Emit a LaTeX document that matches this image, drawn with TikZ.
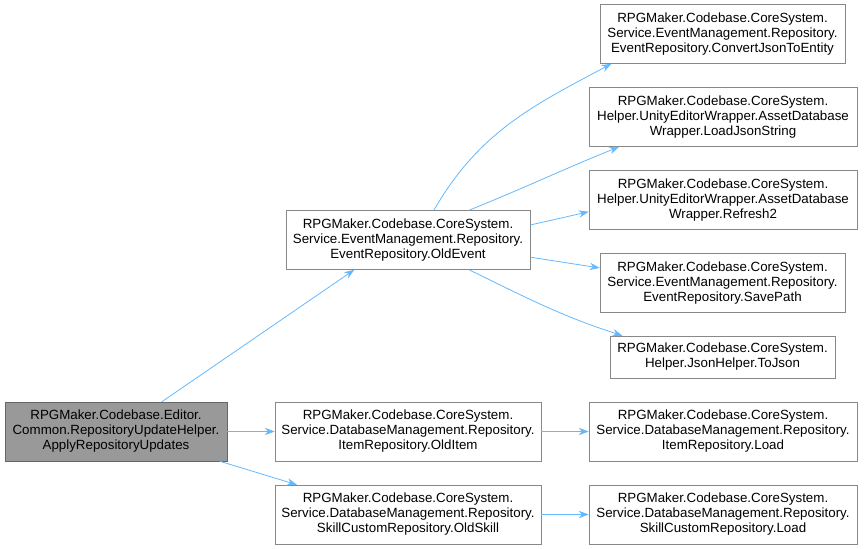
\documentclass[tikz,border=0pt]{standalone}
\usepackage{fontspec}
\setmainfont{Liberation Sans}
\usepackage{tikz}
\usetikzlibrary{arrows.meta, positioning}
\definecolor{edgeblue}{HTML}{63B8FF}
\definecolor{boxline}{HTML}{888888}
\definecolor{rootfill}{HTML}{999999}
\tikzset{
  fn/.style={
    minimum height=44.25pt,
    inner sep=0pt,
    align=center,
    draw=boxline,
    fill=white,
    font=\fontsize{10}{11.25}\selectfont
  },
  start/.style={
    fn,
    fill=rootfill,
    draw=black!60
  },
  arrow/.style={draw=edgeblue,line width=0.6pt,-{Stealth[length=7.5pt,width=5.5pt]}}
}
\begin{document}
\begin{tikzpicture}[x=0.75pt,y=-0.75pt,every edge/.style={arrow}]
  \useasboundingbox (0,0) rectangle (864,549);
  \node (root) [start, minimum width=166.5pt] at (116,431.5)
    {RPGMaker.Codebase.Editor.\\Common.RepositoryUpdateHelper.\\ApplyRepositoryUpdates};
  \node (a) [fn, minimum width=183pt] at (408,240)
    {RPGMaker.Codebase.CoreSystem.\\Service.EventManagement.Repository.\\EventRepository.OldEvent};
  \node (b) [fn, minimum width=199.5pt] at (408,431.5)
    {RPGMaker.Codebase.CoreSystem.\\Service.DatabaseManagement.Repository.\\ItemRepository.OldItem};
  \node (c) [fn, minimum width=199.5pt] at (408,514.5)
    {RPGMaker.Codebase.CoreSystem.\\Service.DatabaseManagement.Repository.\\SkillCustomRepository.OldSkill};
  \node (aa) [fn, minimum width=183.75pt] at (722.5,34)
    {RPGMaker.Codebase.CoreSystem.\\Service.EventManagement.Repository.\\EventRepository.ConvertJsonToEntity};
  \node (ab) [fn, minimum width=201pt] at (723,117)
    {RPGMaker.Codebase.CoreSystem.\\Helper.UnityEditorWrapper.AssetDatabase\\Wrapper.LoadJsonString};
  \node (ac) [fn, minimum width=201pt] at (723,200)
    {RPGMaker.Codebase.CoreSystem.\\Helper.UnityEditorWrapper.AssetDatabase\\Wrapper.Refresh2};
  \node (ad) [fn, minimum width=183.75pt] at (722.5,283)
    {RPGMaker.Codebase.CoreSystem.\\Service.EventManagement.Repository.\\EventRepository.SavePath};
  \node (ae) [fn, minimum width=168.75pt, minimum height=31.5pt] at (722.5,357)
    {RPGMaker.Codebase.CoreSystem.\\Helper.JsonHelper.ToJson};
  \node (ba) [fn, minimum width=201pt] at (723,431.5)
    {RPGMaker.Codebase.CoreSystem.\\Service.DatabaseManagement.Repository.\\ItemRepository.Load};
  \node (ca) [fn, minimum width=201pt] at (723,514.5)
    {RPGMaker.Codebase.CoreSystem.\\Service.DatabaseManagement.Repository.\\SkillCustomRepository.Load};
  \path
  (root.33) edge (a.209)
  (root.east) edge (b.west)
  (root.344) edge (c.165)
  (a.49) edge[out=60,in=208] (aa.195)
  (a.26) edge[out=22,in=202] (ab.196)
  (a.7) edge (ac.185)
  (a.352) edge (ad.173)
  (a.334) edge[out=-26,in=162] (ae.168)
  (b.east) edge (ba.west)
  (c.east) edge (ca.west)
  ;
\end{tikzpicture}
\end{document}
